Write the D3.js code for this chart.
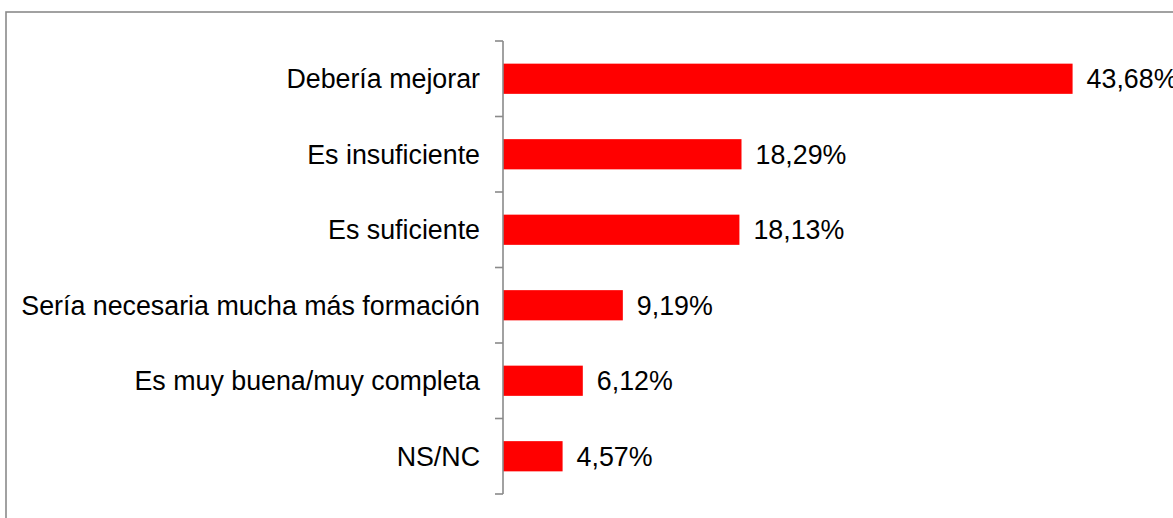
<!DOCTYPE html>
<html>
<head>
<meta charset="utf-8">
<script src="https://cdn.jsdelivr.net/npm/d3@7"></script>
<style>
  body { margin: 0; background: #fff; overflow: hidden; }
  text { font-family: Arial, "Liberation Sans", sans-serif; fill: #000; }
</style>
</head>
<body>
<div id="chart"></div>
<script>
const categories = ["Debería mejorar", "Es insuficiente", "Es suficiente",
  "Sería necesaria mucha más formación", "Es muy buena/muy completa", "NS/NC"];
const values = [43.68, 18.29, 18.13, 9.19, 6.12, 4.57];
const labels = ["43,68%", "18,29%", "18,13%", "9,19%", "6,12%", "4,57%"];

const width = 1173, height = 518;
const axisX = 503;

const svg = d3.select("#chart").append("svg")
  .attr("width", width)
  .attr("height", height);

// outer frame (runs off the right and bottom edges)
svg.append("rect")
  .attr("x", 6).attr("y", 12)
  .attr("width", 1220).attr("height", 560)
  .attr("fill", "none")
  .attr("stroke", "#8a8a8a")
  .attr("stroke-width", 1.6);

const x = d3.scaleLinear().domain([0, 50]).range([axisX, axisX + 652]);
const y = d3.scaleBand().domain(categories).range([41, 494])
  .paddingInner(0.6).paddingOuter(0.3);

svg.selectAll("rect.bar").data(values).join("rect")
  .attr("class", "bar")
  .attr("x", x(0))
  .attr("y", (d, i) => y(categories[i]))
  .attr("width", d => x(d) - x(0))
  .attr("height", y.bandwidth())
  .attr("fill", "#ff0000");

// axis line with ticks at category boundaries
const step = y.step();
const bounds = d3.range(categories.length + 1).map(i => 41 + i * step);
const ax = svg.append("g").attr("stroke", "#8a8a8a").attr("stroke-width", 1.6);
ax.append("line").attr("x1", axisX).attr("x2", axisX).attr("y1", 41).attr("y2", 494);
ax.selectAll("line.tick").data(bounds).join("line")
  .attr("class", "tick")
  .attr("x1", axisX - 8).attr("x2", axisX)
  .attr("y1", d => d).attr("y2", d => d);

svg.selectAll("text.cat").data(categories).join("text")
  .attr("class", "cat")
  .attr("x", axisX - 23)
  .attr("y", d => y(d) + y.bandwidth() / 2)
  .attr("dy", "0.35em")
  .attr("text-anchor", "end")
  .attr("font-size", 26.8)
  .text(d => d);

svg.selectAll("text.val").data(values).join("text")
  .attr("class", "val")
  .attr("x", d => x(d) + 14)
  .attr("y", (d, i) => y(categories[i]) + y.bandwidth() / 2)
  .attr("dy", "0.35em")
  .attr("font-size", 26.8)
  .text((d, i) => labels[i]);
</script>
</body>
</html>
